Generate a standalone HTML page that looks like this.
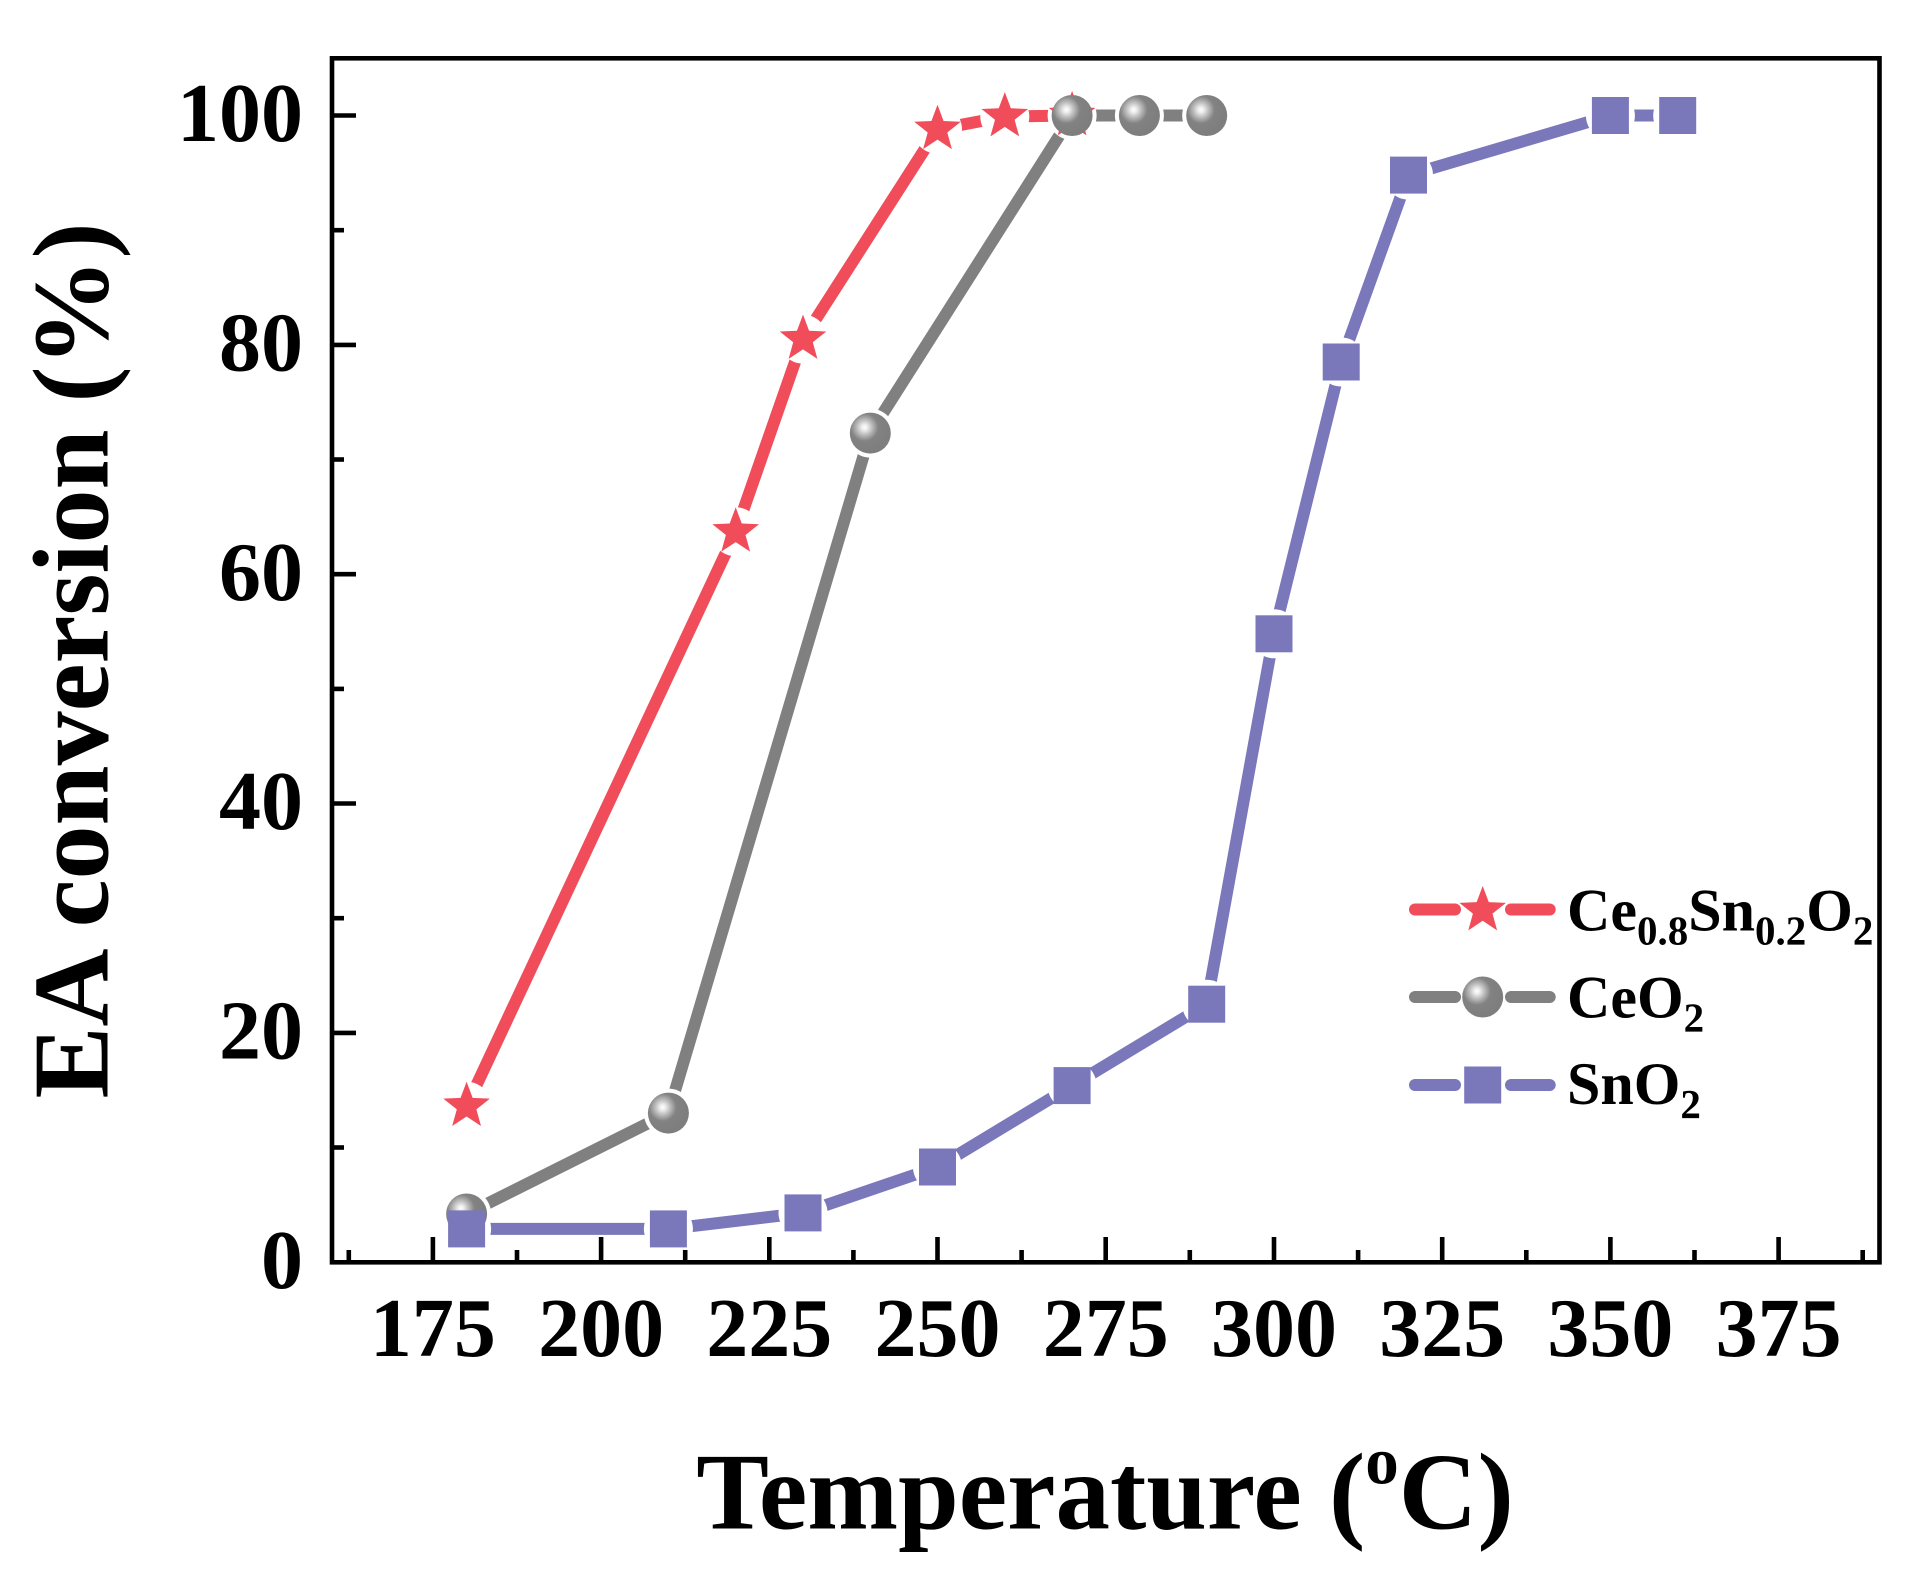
<!DOCTYPE html>
<html>
<head>
<meta charset="utf-8">
<style>
  html, body { margin:0; padding:0; background:#ffffff; }
  svg { display:block; }
  text { font-family: "Liberation Serif", "Times New Roman", serif; font-weight: bold; fill:#000; }
</style>
</head>
<body>
<svg width="1910" height="1588" viewBox="0 0 1910 1588" xmlns="http://www.w3.org/2000/svg">
  <defs>
    <radialGradient id="gball" cx="0.36" cy="0.36" r="0.6" fx="0.36" fy="0.36">
      <stop offset="0" stop-color="#ffffff"/>
      <stop offset="0.12" stop-color="#ececec"/>
      <stop offset="0.26" stop-color="#c8c8c8"/>
      <stop offset="0.42" stop-color="#a2a2a2"/>
      <stop offset="0.56" stop-color="#828282"/>
      <stop offset="1" stop-color="#7e7e7e"/>
    </radialGradient>
    <path id="star" d="M0,-24.5 L6.05,-8.33 L23.3,-7.57 L9.8,3.18 L14.4,19.82 L0,10.3 L-14.4,19.82 L-9.8,3.18 L-23.3,-7.57 L-6.05,-8.33 Z" fill="#F04C5A"/>
    <circle id="ball" cx="0" cy="0" r="20.5" fill="url(#gball)"/>
    <rect id="sq" x="-18.5" y="-18.5" width="37" height="37" fill="#7A77BB"/>

    <mask id="mR" maskUnits="userSpaceOnUse" x="0" y="0" width="1910" height="1588">
      <rect x="0" y="0" width="1910" height="1588" fill="#fff"/>
      <g fill="#000">
        <circle cx="466.6" cy="1106.2" r="24.5"/>
        <circle cx="735.7" cy="531.8" r="24.5"/>
        <circle cx="803.0" cy="339.1" r="24.5"/>
        <circle cx="937.5" cy="129.3" r="24.5"/>
        <circle cx="1004.8" cy="116.6" r="24.5"/>
        <circle cx="1072.1" cy="115.5" r="24.5"/>
      </g>
    </mask>
    <mask id="mG" maskUnits="userSpaceOnUse" x="0" y="0" width="1910" height="1588">
      <rect x="0" y="0" width="1910" height="1588" fill="#fff"/>
      <g fill="#000">
        <circle cx="466.6" cy="1214.0" r="24.5"/>
        <circle cx="668.4" cy="1113.1" r="24.5"/>
        <circle cx="870.3" cy="433.1" r="24.5"/>
        <circle cx="1072.1" cy="115.5" r="24.5"/>
        <circle cx="1139.4" cy="115.5" r="24.5"/>
        <circle cx="1206.7" cy="115.5" r="24.5"/>
      </g>
    </mask>
    <mask id="mB" maskUnits="userSpaceOnUse" x="0" y="0" width="1910" height="1588">
      <rect x="0" y="0" width="1910" height="1588" fill="#fff"/>
      <g fill="#000">
        <circle cx="466.6" cy="1228.9" r="24.5"/>
        <circle cx="668.4" cy="1228.9" r="24.5"/>
        <circle cx="803.0" cy="1212.9" r="24.5"/>
        <circle cx="937.5" cy="1167.0" r="24.5"/>
        <circle cx="1072.1" cy="1085.6" r="24.5"/>
        <circle cx="1206.7" cy="1004.2" r="24.5"/>
        <circle cx="1274.0" cy="633.8" r="24.5"/>
        <circle cx="1341.2" cy="362.0" r="24.5"/>
        <circle cx="1408.5" cy="175.1" r="24.5"/>
        <circle cx="1610.4" cy="115.5" r="24.5"/>
        <circle cx="1677.7" cy="115.5" r="24.5"/>
      </g>
    </mask>
  </defs>

  <!-- Red series: Ce0.8Sn0.2O2 -->
  <polyline mask="url(#mR)" fill="none" stroke="#F04C5A" stroke-width="12" stroke-linejoin="round" stroke-linecap="round"
    points="466.6,1106.2 735.7,531.8 803.0,339.1 937.5,129.3 1004.8,116.6 1072.1,115.5"/>
  <use href="#star" x="466.6" y="1106.2"/>
  <use href="#star" x="735.7" y="531.8"/>
  <use href="#star" x="803.0" y="339.1"/>
  <use href="#star" x="937.5" y="129.3"/>
  <use href="#star" x="1004.8" y="116.6"/>
  <use href="#star" x="1072.1" y="115.5"/>

  <!-- Gray series: CeO2 -->
  <polyline mask="url(#mG)" fill="none" stroke="#808080" stroke-width="12" stroke-linejoin="round" stroke-linecap="round"
    points="466.6,1214.0 668.4,1113.1 870.3,433.1 1072.1,115.5 1139.4,115.5 1206.7,115.5"/>
  <use href="#ball" x="466.6" y="1214.0"/>
  <use href="#ball" x="668.4" y="1113.1"/>
  <use href="#ball" x="870.3" y="433.1"/>
  <use href="#ball" x="1072.1" y="115.5"/>
  <use href="#ball" x="1139.4" y="115.5"/>
  <use href="#ball" x="1206.7" y="115.5"/>

  <!-- Blue series: SnO2 -->
  <polyline mask="url(#mB)" fill="none" stroke="#7A77BB" stroke-width="12" stroke-linejoin="round" stroke-linecap="round"
    points="466.6,1228.9 668.4,1228.9 803.0,1212.9 937.5,1167.0 1072.1,1085.6 1206.7,1004.2 1274.0,633.8 1341.2,362.0 1408.5,175.1 1610.4,115.5 1677.7,115.5"/>
  <use href="#sq" x="466.6" y="1228.9"/>
  <use href="#sq" x="668.4" y="1228.9"/>
  <use href="#sq" x="803.0" y="1212.9"/>
  <use href="#sq" x="937.5" y="1167.0"/>
  <use href="#sq" x="1072.1" y="1085.6"/>
  <use href="#sq" x="1206.7" y="1004.2"/>
  <use href="#sq" x="1274.0" y="633.8"/>
  <use href="#sq" x="1341.2" y="362.0"/>
  <use href="#sq" x="1408.5" y="175.1"/>
  <use href="#sq" x="1610.4" y="115.5"/>
  <use href="#sq" x="1677.7" y="115.5"/>

  <!-- Axes frame -->
  <rect x="332" y="58.3" width="1547.5" height="1204" fill="none" stroke="#000" stroke-width="4.6"/>

  <!-- Y ticks -->
  <g stroke="#000" stroke-width="4.6">
    <line x1="334" y1="1032.9" x2="356" y2="1032.9"/>
    <line x1="334" y1="803.5" x2="356" y2="803.5"/>
    <line x1="334" y1="574.2" x2="356" y2="574.2"/>
    <line x1="334" y1="344.9" x2="356" y2="344.9"/>
    <line x1="334" y1="115.5" x2="356" y2="115.5"/>
    <line x1="334" y1="1147.5" x2="344" y2="1147.5"/>
    <line x1="334" y1="918.2" x2="344" y2="918.2"/>
    <line x1="334" y1="688.9" x2="344" y2="688.9"/>
    <line x1="334" y1="459.5" x2="344" y2="459.5"/>
    <line x1="334" y1="230.2" x2="344" y2="230.2"/>
  </g>

  <!-- X ticks -->
  <g stroke="#000" stroke-width="4.6">
    <line x1="432.9" y1="1260" x2="432.9" y2="1237"/>
    <line x1="601.1" y1="1260" x2="601.1" y2="1237"/>
    <line x1="769.3" y1="1260" x2="769.3" y2="1237"/>
    <line x1="937.5" y1="1260" x2="937.5" y2="1237"/>
    <line x1="1105.7" y1="1260" x2="1105.7" y2="1237"/>
    <line x1="1274.0" y1="1260" x2="1274.0" y2="1237"/>
    <line x1="1442.2" y1="1260" x2="1442.2" y2="1237"/>
    <line x1="1610.4" y1="1260" x2="1610.4" y2="1237"/>
    <line x1="1778.6" y1="1260" x2="1778.6" y2="1237"/>
    <line x1="348.8" y1="1260" x2="348.8" y2="1250"/>
    <line x1="517.0" y1="1260" x2="517.0" y2="1250"/>
    <line x1="685.2" y1="1260" x2="685.2" y2="1250"/>
    <line x1="853.4" y1="1260" x2="853.4" y2="1250"/>
    <line x1="1021.6" y1="1260" x2="1021.6" y2="1250"/>
    <line x1="1189.8" y1="1260" x2="1189.8" y2="1250"/>
    <line x1="1358.1" y1="1260" x2="1358.1" y2="1250"/>
    <line x1="1526.3" y1="1260" x2="1526.3" y2="1250"/>
    <line x1="1694.5" y1="1260" x2="1694.5" y2="1250"/>
    <line x1="1862.7" y1="1260" x2="1862.7" y2="1250"/>
  </g>

  <!-- Y tick labels -->
  <g font-size="84" text-anchor="end">
    <text x="303" y="1287.8">0</text>
    <text x="303" y="1058.5">20</text>
    <text x="303" y="829.1">40</text>
    <text x="303" y="599.8">60</text>
    <text x="303" y="370.5">80</text>
    <text x="303" y="141.1">100</text>
  </g>

  <!-- X tick labels -->
  <g font-size="84" text-anchor="middle">
    <text x="432.9" y="1356">175</text>
    <text x="601.1" y="1356">200</text>
    <text x="769.3" y="1356">225</text>
    <text x="937.5" y="1356">250</text>
    <text x="1105.7" y="1356">275</text>
    <text x="1274.0" y="1356">300</text>
    <text x="1442.2" y="1356">325</text>
    <text x="1610.4" y="1356">350</text>
    <text x="1778.6" y="1356">375</text>
  </g>

  <!-- Axis titles -->
  <text transform="translate(107.3,660.5) rotate(-90)" text-anchor="middle" font-size="108">EA conversion (%)</text>
  <text x="1105" y="1528.3" text-anchor="middle" font-size="109">Temperature (<tspan font-size="67" dy="-45">o</tspan><tspan dy="45">C)</tspan></text>

  <!-- Legend -->
  <g stroke-width="12" stroke-linecap="round">
    <line x1="1415" y1="909.5" x2="1455" y2="909.5" stroke="#F04C5A"/>
    <line x1="1511" y1="909.5" x2="1549.7" y2="909.5" stroke="#F04C5A"/>
    <line x1="1415" y1="997" x2="1455" y2="997" stroke="#808080"/>
    <line x1="1511" y1="997" x2="1549.7" y2="997" stroke="#808080"/>
    <line x1="1415" y1="1085" x2="1455" y2="1085" stroke="#7A77BB"/>
    <line x1="1511" y1="1085" x2="1549.7" y2="1085" stroke="#7A77BB"/>
  </g>
  <use href="#star" x="1482.7" y="910.5"/>
  <use href="#ball" x="1482.7" y="997"/>
  <use href="#sq" x="1482.7" y="1085"/>

  <g font-size="60">
    <text x="1567" y="930.5">Ce<tspan font-size="41" dy="14">0.8</tspan><tspan dy="-14">Sn</tspan><tspan font-size="41" dy="14">0.2</tspan><tspan dy="-14">O</tspan><tspan font-size="41" dy="14">2</tspan></text>
    <text x="1567" y="1017.5">CeO<tspan font-size="41" dy="14">2</tspan></text>
    <text x="1567" y="1104">SnO<tspan font-size="41" dy="14">2</tspan></text>
  </g>
</svg>
</body>
</html>
